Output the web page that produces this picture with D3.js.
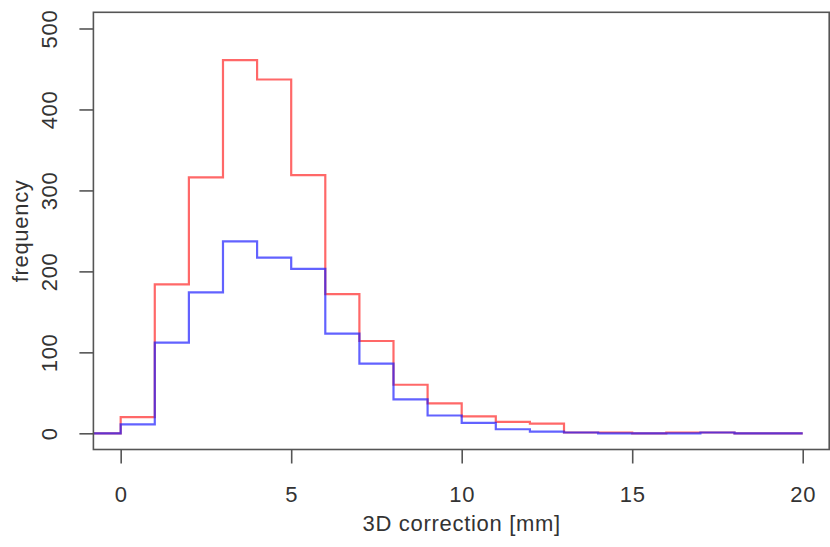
<!DOCTYPE html>
<html>
<head>
<meta charset="utf-8">
<script src="https://cdn.jsdelivr.net/npm/d3@7"></script>
<style>
  html, body { margin: 0; padding: 0; background: #fff; }
  svg { display: block; }
  text { font-family: "Liberation Sans", Arial, Helvetica, sans-serif; fill: #333; letter-spacing: 0.7px; }
</style>
</head>
<body>
<svg id="chart" width="830" height="547"></svg>
<script>
// Histogram bins: left edges of 1 mm wide bins
const binStarts = [0,1,2,3,4,5,6,7,8,9,10,11,12,13,14,15,16,17,18,19];
const binWidth = 1;
// Counts per bin for the two series
const redCounts  = [20,184,316,461,437,319,172,114,60,37,21,14,12,1,1,0,1,1,0,0];
const blueCounts = [11,112,174,237,217,203,123,86,42,22,13,5,2,1,0,0,0,1,0,0];
// Axis ticks
const xTicks = [0,5,10,15,20];
const yTicks = [0,100,200,300,400,500];
const xTitle = "3D correction [mm]";
const yTitle = "frequency";

const W = 830, H = 547;
const plot = { left: 93.4, right: 830, top: 12.3, bottom: 449.5 };

const svg = d3.select("#chart");

const x = d3.scaleLinear().domain([-0.8, 20.8]).range([plot.left, plot.right]);
const y = d3.scaleLinear().domain([-20, 520]).range([plot.bottom, plot.top]);

// Build step outline for a histogram series
function stepPoints(counts) {
  const pts = [[x.domain()[0], 0], [binStarts[0], 0]];
  counts.forEach((c, i) => {
    pts.push([binStarts[i], c]);
    pts.push([binStarts[i] + binWidth, c]);
  });
  return pts;
}

const line = d3.line().x(d => x(d[0])).y(d => y(d[1]));

svg.append("clipPath").attr("id", "clip")
  .append("rect")
  .attr("x", plot.left).attr("y", plot.top)
  .attr("width", plot.right - plot.left).attr("height", plot.bottom - plot.top);

const g = svg.append("g").attr("clip-path", "url(#clip)");

g.append("path")
  .datum(stepPoints(redCounts))
  .attr("d", line)
  .attr("fill", "none")
  .attr("stroke", "#ff2020")
  .attr("stroke-opacity", 0.68)
  .attr("stroke-width", 2.2);

g.append("path")
  .datum(stepPoints(blueCounts))
  .attr("d", line)
  .attr("fill", "none")
  .attr("stroke", "#1818ff")
  .attr("stroke-opacity", 0.68)
  .attr("stroke-width", 2.2);

// Plot frame
svg.append("rect")
  .attr("x", plot.left).attr("y", plot.top)
  .attr("width", plot.right - plot.left - 0.8)
  .attr("height", plot.bottom - plot.top)
  .attr("fill", "none")
  .attr("stroke", "#555")
  .attr("stroke-width", 1.6);

// X axis (below frame)
const xAxis = d3.axisBottom(x).tickValues(xTicks).tickSize(14).tickPadding(24)
  .tickFormat(d3.format("d"));
const gx = svg.append("g").attr("transform", `translate(0,${plot.bottom})`).call(xAxis);
gx.select(".domain").remove();
gx.selectAll(".tick line").attr("stroke", "#555").attr("stroke-width", 1.6);
gx.selectAll(".tick text")
  .attr("font-size", "22px")
  .attr("fill", "#333")
  .attr("dy", null)
  .attr("y", 52.8);

// Y axis (left of frame), labels parallel to the axis
const yAxis = d3.axisLeft(y).tickValues(yTicks).tickSize(14).tickFormat(d3.format("d"));
const gy = svg.append("g").attr("transform", `translate(${plot.left},0)`).call(yAxis);
gy.select(".domain").remove();
gy.selectAll(".tick line").attr("stroke", "#555").attr("stroke-width", 1.6);
gy.selectAll(".tick text")
  .attr("font-size", "22px")
  .attr("fill", "#333")
  .attr("x", null).attr("dy", null)
  .attr("text-anchor", "middle")
  .attr("transform", "translate(-36.4,0) rotate(-90)");

// Axis titles
svg.append("text")
  .attr("x", (plot.left + plot.right) / 2)
  .attr("y", 530.7)
  .attr("text-anchor", "middle")
  .attr("font-size", "22px")
  .text(xTitle);

svg.append("text")
  .attr("transform", `translate(28,${(plot.top + plot.bottom) / 2}) rotate(-90)`)
  .attr("text-anchor", "middle")
  .attr("font-size", "22px")
  .text(yTitle);
</script>
</body>
</html>
